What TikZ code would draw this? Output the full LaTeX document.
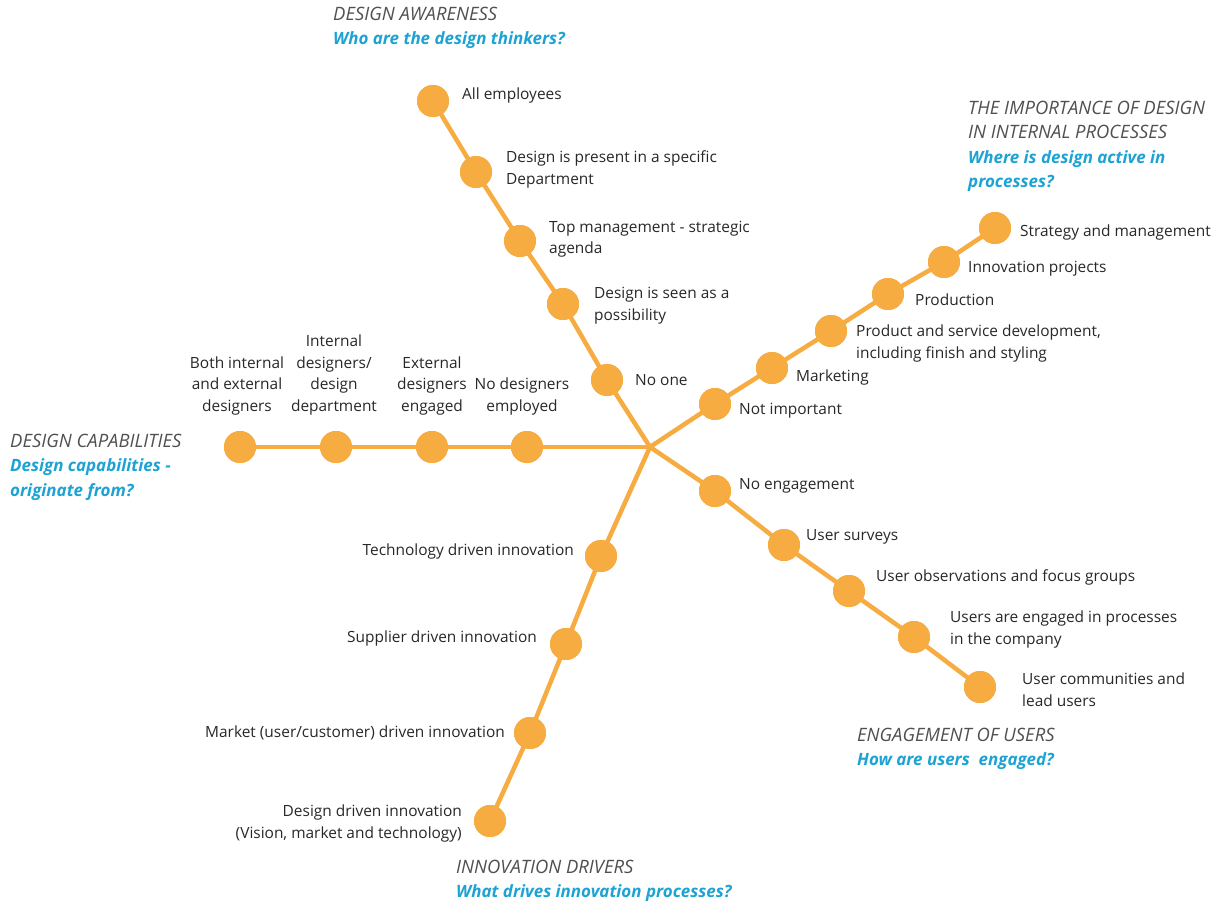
\documentclass[tikz,border=0pt]{standalone}
\usepackage{fontspec}
\setmainfont{Open Sans}
\definecolor{orng}{RGB}{246,172,64}
\definecolor{bluet}{RGB}{28,163,212}
\definecolor{txt}{RGB}{40,40,40}
\definecolor{hdg}{RGB}{80,80,80}
\newcommand{\qq}[1]{{\fontsize{17}{24.5}\selectfont\color{bluet}\bfseries #1}}
\begin{document}
\begin{tikzpicture}[x=1bp,y=-1bp,
  dot/.style={circle,fill=orng,minimum size=32bp,inner sep=0pt},
  ln/.style={draw=orng,line width=4.5bp},
  lab/.style={font=\fontsize{15.5}{21.5}\selectfont,text=txt,inner sep=0pt,align=left,anchor=west},
  labr/.style={lab,align=right,anchor=east},
  labc/.style={lab,align=center,anchor=south},
  head/.style={font=\fontsize{18.5}{24.5}\selectfont\itshape,text=hdg,inner sep=0pt,align=left,anchor=north west}]
\useasboundingbox[fill=white] (0,0) rectangle (1227,908);
\coordinate (c) at (650,447);
% design awareness
\node[dot] (a1) at (433,101) {};
\node[dot] (a2) at (476,172) {};
\node[dot] (a3) at (520,241) {};
\node[dot] (a4) at (563,304) {};
\node[dot] (a5) at (607,380) {};
% internal processes
\node[dot] (p1) at (995,228) {};
\node[dot] (p2) at (944,262) {};
\node[dot] (p3) at (888,294) {};
\node[dot] (p4) at (831,331) {};
\node[dot] (p5) at (772,368) {};
\node[dot] (p6) at (715,404) {};
% capabilities
\node[dot] (d1) at (240,447) {};
\node[dot] (d2) at (336,447) {};
\node[dot] (d3) at (432,447) {};
\node[dot] (d4) at (527,447) {};
% users
\node[dot] (u1) at (715,491) {};
\node[dot] (u2) at (784,545) {};
\node[dot] (u3) at (849,591) {};
\node[dot] (u4) at (914,637) {};
\node[dot] (u5) at (980,687) {};
% innovation drivers
\node[dot] (i1) at (601,556) {};
\node[dot] (i2) at (566,644) {};
\node[dot] (i3) at (530,733) {};
\node[dot] (i4) at (490,821) {};
% connectors
\path[ln] (c) -- (a5.center) -- (a4.center) -- (a3.center) -- (a2.center) -- (a1.center);
\path[ln] (c) -- (p6.center) -- (p5.center) -- (p4.center) -- (p3.center) -- (p2.center) -- (p1.center);
\path[ln] (c) -- (d4.center) -- (d3.center) -- (d2.center) -- (d1.center);
\path[ln] (c) -- (u1.center) -- (u2.center) -- (u3.center) -- (u4.center) -- (u5.center);
\path[ln] (c) -- (i1.center) -- (i2.center) -- (i3.center) -- (i4.center);
% redraw dots on top
\foreach \n in {a1,a2,a3,a4,a5,p1,p2,p3,p4,p5,p6,d1,d2,d3,d4,u1,u2,u3,u4,u5,i1,i2,i3,i4}
  \fill[orng] (\n.center) circle (16bp);
% labels: awareness
\node[lab] (la1) at (462,95) {All employees};
\node[lab] (la2) at (506,169.5) {Design is present in a specific\\Department};
\node[lab] (la3) at (549,239) {Top management - strategic\\agenda};
\node[lab] (la4) at (594,305.5) {Design is seen as a\\possibility};
\node[lab] (la5) at (635,380) {No one};
% processes
\node[lab] (lp1) at (1020,232) {Strategy and management};
\node[lab] (lp2) at (968,269) {Innovation projects};
\node[lab] (lp3) at (915,300) {Production};
\node[lab] (lp4) at (856,343.5) {Product and service development,\\including finish and styling};
\node[lab] (lp5) at (796,377) {Marketing};
\node[lab] (lp6) at (739,411) {Not important};
% capabilities
\node[labc] (ld1) at (237,415) {Both internal\\and external\\designers};
\node[labc] (ld2) at (334,415) {Internal\\designers/\\design\\department};
\node[labc] (ld3) at (432,415) {External\\designers\\engaged};
\node[labc] (ld4) at (522,415) {No designers\\employed};
% users
\node[lab] (lu1) at (739,486) {No engagement};
\node[lab] (lu2) at (806,537) {User surveys};
\node[lab] (lu3) at (876,577) {User observations and focus groups};
\node[lab] (lu4) at (950,629.5) {Users are engaged in processes\\in the company};
\node[lab] (lu5) at (1022,689.5) {User communities and\\lead users};
% drivers
\node[labr] (li1) at (574,551) {Technology driven innovation};
\node[labr] (li2) at (537,638) {Supplier driven innovation};
\node[labr] (li3) at (505,733) {Market (user/customer) driven innovation};
\node[labr] (li4) at (462,823.5) {Design driven innovation\\(Vision, market and technology)};
% headings
\node[head] (ha) at (333,7) {DESIGN AWARENESS\\\qq{Who are the design thinkers?}};
\node[head] (hp) at (968,101) {THE IMPORTANCE OF DESIGN\\IN INTERNAL PROCESSES\\\qq{Where is design active in}\\\qq{processes?}};
\node[head] (hd) at (10,434) {DESIGN CAPABILITIES\\\qq{Design capabilities -}\\\qq{originate from?}};
\node[head] (hu) at (857,728) {ENGAGEMENT OF USERS\\\qq{How are users\ \ engaged?}};
\node[head] (hi) at (456,860) {INNOVATION DRIVERS\\\qq{What drives innovation processes?}};
\end{tikzpicture}
\end{document}
